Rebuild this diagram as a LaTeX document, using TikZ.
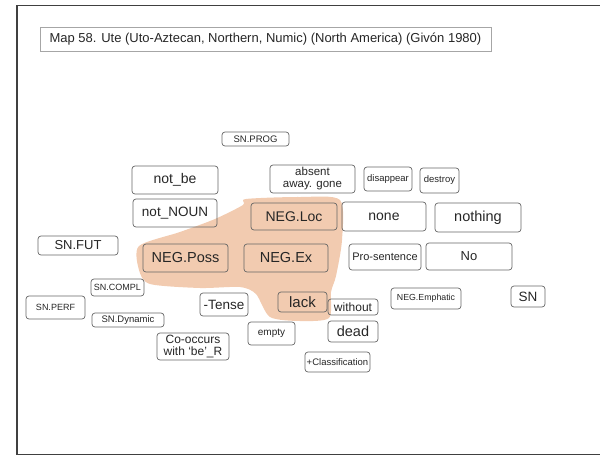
\documentclass[tikz,border=0pt]{standalone}
\usepackage{fontspec}
\setmainfont{Liberation Sans}
\setsansfont{Liberation Sans}
\begin{document}
\begin{tikzpicture}[x=1pt,y=-1pt,
  bx/.style={draw=black!60, line width=0.7pt, rounded corners=3pt, inner sep=0pt, align=center, text=black!85},
  frameline/.style={draw=black!75},
  blob/.style={fill={rgb,255:red,242;green,203;blue,176}, draw=none}]
\useasboundingbox (0,0) rectangle (600,456);
% frame
\draw[frameline, line width=1.8pt] (17,5) -- (17,455);
\draw[frameline, line width=1pt] (17,5) -- (600,5);
\draw[frameline, line width=1pt] (17,454) -- (600,454);
% title
\node[draw=black!35, line width=0.6pt, minimum width=451pt, minimum height=24pt, inner sep=0pt, anchor=north west] (titlebox) at (40,27) {};
\node[anchor=west, font=\fontsize{13}{15}\selectfont, text=black!85] (title) at (46,39) {Map 58. Ute (Uto-Aztecan, Northern, Numic) (North America) (Givón 1980)};
% highlight blob
\fill[blob] plot[smooth cycle, tension=0.45] coordinates {
 (246,199) (300,197) (340,200) (342,240) (336,276) (331,292) (329,318) (300,321) (270,317) (256,294) (240,287) (200,288) (150,284) (139,270) (139,246) (180,232) (215,219) (243,205)};
% nodes
\newcommand{\mybox}[7]{\node[bx, minimum width=#4pt, minimum height=#5pt, font=\fontsize{#6}{#6}\selectfont] (#1) at (#2,#3) {#7};}
\mybox{snprog}{255.5}{139}{67}{14}{9.5}{SN.PROG}
\mybox{notbe}{175}{180}{86}{28}{14}{not\_be}
\node[bx, minimum width=85pt, minimum height=28pt, font=\fontsize{11.5}{12}\selectfont] (absent) at (312.5,179) {absent\\away. gone};
\mybox{disappear}{388}{179}{48}{24}{9.5}{disappear}
\mybox{destroy}{439.5}{180.5}{39}{25}{9.5}{destroy}
\mybox{notnoun}{175}{213}{84}{28}{13.5}{not\_NOUN}
\mybox{negloc}{294}{216.5}{86}{27}{14}{NEG.Loc}
\mybox{none}{384}{216.5}{84}{29}{14}{none}
\mybox{nothing}{478}{217.5}{86}{29}{14.5}{nothing}
\mybox{snfut}{78}{245.5}{80}{19}{13}{SN.FUT}
\mybox{negposs}{185.5}{258}{85}{28}{14.5}{NEG.Poss}
\mybox{negex}{286}{258}{84}{28}{14.5}{NEG.Ex}
\mybox{prosent}{385}{257}{72}{26}{11}{Pro-sentence}
\mybox{no}{469}{256.5}{86}{27}{13}{No}
\mybox{sncompl}{117.5}{287.5}{53}{17}{9}{SN.COMPL}
\mybox{snperf}{55.5}{307.5}{59}{23}{9}{SN.PERF}
\mybox{sndyn}{128}{320}{72}{14}{9.5}{SN.Dynamic}
\mybox{tense}{224}{304.5}{48}{23}{13.5}{-Tense}
\mybox{lack}{302.5}{302}{49}{20}{15}{lack}
\mybox{without}{353}{307}{50}{16}{12}{without}
\mybox{negemph}{426}{298.5}{70}{21}{8.8}{NEG.Emphatic}
\mybox{sn}{528}{296.5}{34}{21}{13.5}{SN}
\mybox{empty}{271.5}{333.5}{47}{23}{10}{empty}
\mybox{dead}{353}{331.5}{50}{21}{14.5}{dead}
\node[bx, minimum width=72pt, minimum height=27pt, font=\fontsize{12}{12.5}\selectfont] (cooccurs) at (193,346.5) {Co-occurs\\with `be'\_R};
\mybox{classif}{337.5}{362}{65}{20}{9.5}{+Classification}
\end{tikzpicture}
\end{document}
